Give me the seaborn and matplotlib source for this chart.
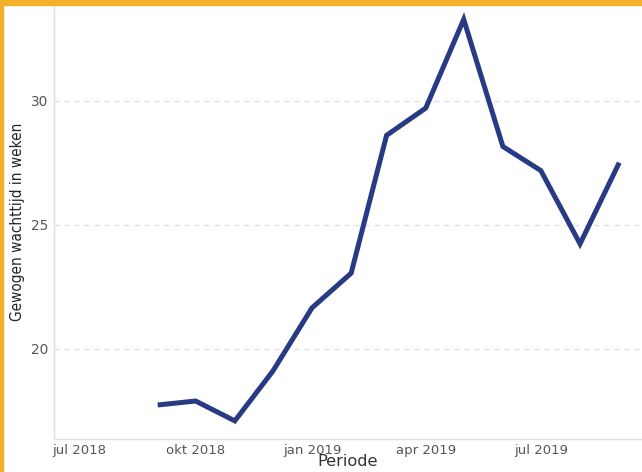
import matplotlib
matplotlib.use("Agg")
import matplotlib.pyplot as plt
from matplotlib.patches import Rectangle
import seaborn as sns
import pandas as pd

periods = ["2018-09-01", "2018-10-01", "2018-11-01", "2018-12-01", "2019-01-01",
           "2019-02-01", "2019-03-01", "2019-04-01", "2019-05-01", "2019-06-01",
           "2019-07-01", "2019-08-01", "2019-09-01"]
wait_weeks = [17.74, 17.9, 17.1, 19.1, 21.65, 23.05, 28.6, 29.7, 33.27, 28.15,
              27.18, 24.23, 27.5]
tick_dates = ["2018-07-01", "2018-10-01", "2019-01-01", "2019-04-01", "2019-07-01"]
tick_labels = ["jul 2018", "okt 2018", "jan 2019", "apr 2019", "jul 2019"]
y_ticks = [20, 25, 30]

df = pd.DataFrame({"Periode": pd.to_datetime(periods), "wacht": wait_weeks})

sns.set_style("white")
plt.rcParams["font.family"] = ["DejaVu Sans"]

fig = plt.figure(figsize=(6.42, 4.72), dpi=100)
ax = fig.add_axes([54 / 642, 1 - 439 / 472, 1 - 54 / 642, (439 - 5) / 472])

sns.lineplot(data=df, x="Periode", y="wacht", ax=ax, color="#283a84",
             linewidth=3.6, solid_joinstyle="miter", solid_capstyle="butt")

ax.set_xlim(pd.Timestamp("2018-06-11"), pd.Timestamp("2019-09-19"))
ax.set_ylim(16.37, 33.85)

ax.set_xticks(pd.to_datetime(tick_dates))
ax.set_xticklabels(tick_labels, color="#555555", fontsize=9.5)
ax.set_yticks(y_ticks)
ax.set_yticklabels([str(v) for v in y_ticks], color="#555555", fontsize=9.8)
ax.tick_params(axis="y", length=3, width=1.2, color="#333333", pad=1.2)
ax.tick_params(axis="x", length=3, width=1.2, color="#333333", pad=0.6)

ax.grid(axis="y", color="#dddddd", linestyle=(0, (4, 4)), linewidth=0.9)
ax.grid(axis="x", visible=False)
for side in ["top", "right"]:
    ax.spines[side].set_visible(False)
for side in ["left", "bottom"]:
    ax.spines[side].set_color("#dddddd")
    ax.spines[side].set_linewidth(1.0)

ax.set_xlabel("Periode", fontsize=11.6, color="#333333", labelpad=-2.0)
ax.set_ylabel("Gewogen wachttijd in weken", fontsize=11, color="#222222",
              family=["Liberation Sans Narrow", "DejaVu Sans"], fontstretch="condensed",
              labelpad=4.5)

# gold frame
fig.patches.append(Rectangle((0, 1 - 5 / 472), 1, 5 / 472, transform=fig.transFigure,
                             color="#f5b02a", zorder=10))
fig.patches.append(Rectangle((0, 0), 3 / 642, 1, transform=fig.transFigure,
                             color="#f5b02a", zorder=10))

fig.savefig("out.png", dpi=100)
